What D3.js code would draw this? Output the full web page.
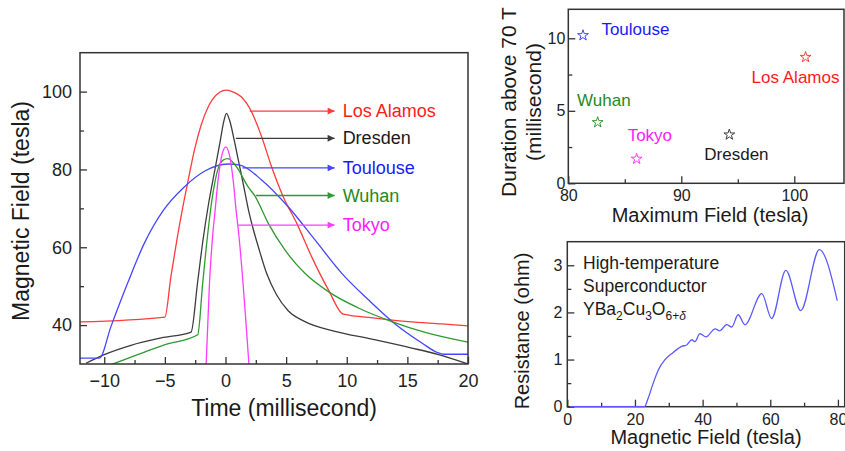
<!DOCTYPE html>
<html>
<head>
<meta charset="utf-8">
<script src="https://cdn.jsdelivr.net/npm/d3@7"></script>
<style>
  body { margin: 0; background: #fff; }
  svg { display: block; font-family: "Liberation Sans", Arial, sans-serif; }
</style>
</head>
<body>
<svg id="chart" width="845" height="451"></svg>
<script>
// field pulses: [time (ms), field (T)]
const losAlamos = [[-12, 40.8], [-5, 42.05], [-4.5, 52.5], [-3.95, 63], [-3.45, 71.5], [-3.0, 78.5],
  [-2.54, 85.3], [-2, 91.5], [-1.44, 96], [-0.7, 99.3], [0.08, 100.4], [0.7, 99.8], [1.32, 98.6],
  [2.15, 94.8], [2.98, 88.4], [3.8, 80.7], [4.76, 73], [5.87, 66.2], [7.1, 57.6], [8.48, 49.1],
  [9.72, 42.8], [12.34, 41.8], [15.09, 40.9], [17.85, 40.3], [20, 39.8]];
const dresden = [[-11.5, 30.2], [-10, 32.4], [-7.8, 34.8], [-5.3, 36.7], [-2.84, 38.2], [-2.3, 51],
  [-1.85, 62], [-1.38, 71.5], [-0.9, 79.5], [-0.45, 87], [-0.15, 92.2], [0.08, 94.4], [0.35, 92.5],
  [0.7, 87.8], [1.05, 82.5], [1.45, 76.5], [1.9, 69.5], [2.3, 64.5], [2.7, 60.2], [3.39, 53.3],
  [4.21, 47.8], [5.17, 43.7], [6.55, 40.9], [9.03, 38.4], [12.07, 36.4], [15.37, 34.1], [17.57, 32.4], [20, 30]];
const toulouse = [[-12, 31.5], [-10.4, 31.5], [-9.45, 39.6], [-8.07, 50.8], [-6.7, 61], [-5.1, 69.6],
  [-3.4, 75.5], [-1.7, 79.6], [0.2, 81.4], [1.2, 81.1], [2.98, 77.3], [5.17, 70.4],
  [7.38, 61.9], [9.59, 53.3], [11.79, 46.5], [13.99, 40.3], [16.2, 35.4], [17.44, 33], [18, 32.5], [20, 32.5]];
const wuhan = [[-9.45, 29.8], [-7.25, 32.4], [-5.04, 34.9], [-2.29, 37.5], [-1.88, 50.8], [-1.46, 63.6],
  [-1.15, 71.5], [-0.9, 76.3], [-0.61, 80.2], [-0.2, 82.4], [0.2, 82.8], [0.9, 80.7], [1.87, 75.5], [2.42, 73.2],
  [3.52, 66.2], [4.9, 59.3], [6.55, 53.3], [8.48, 48.6], [10.96, 44.4], [13.72, 40.9], [16.47, 38.1], [20, 35.6]];
const tokyo = [[-1.6, 29.8], [-1.32, 50.8], [-1.02, 64.4], [-0.88, 68.7], [-0.61, 77.3], [-0.33, 83.2],
  [0.02, 85.8], [0.36, 83.2], [0.63, 77.3], [0.9, 68.7], [1.04, 65], [1.93, 30]];

const sites = ["Los Alamos", "Dresden", "Toulouse", "Wuhan", "Tokyo"];
const pulses = [losAlamos, dresden, toulouse, wuhan, tokyo];
const arrowField = [95, 88, 80.4, 73.3, 65.7];
const arrowFrom = [2.0, 0.85, 1.4, 2.5, 1.07];
const arrowTo = 9.0;

// max field vs time above 70 T
const maxField = [101.0, 94.25, 81.3, 82.6, 86.05];
const duration = [8.7, 3.35, 10.2, 4.2, 1.68];

// YBCO resistance sweep
const resField = [0.8, 10, 20, 22.8, 23.9, 25.4, 26.9, 28.9, 31.3, 33.8, 35.3, 36.8, 37.7, 39.2, 41,
  43.7, 45.1, 47.1, 48.6, 50.5, 52.5, 57.5, 60.4, 64.6, 69, 74.5, 79.8];
const resOhm = [0, 0, 0, 0, 0.18, 0.5, 0.78, 1.0, 1.15, 1.28, 1.31, 1.42, 1.38, 1.55, 1.48,
  1.65, 1.61, 1.74, 1.69, 1.95, 1.74, 2.4, 1.87, 2.89, 2.04, 3.33, 2.25];

const lineColor = ["#ff3b3b", "#3c3c3c", "#4646ff", "#2f9a2f", "#ff3cff"];
const textColor = ["#ff1a1a", "#1a1a1a", "#1a1aff", "#1f8a1f", "#ff1aff"];

const svg = d3.select("#chart");

const frame = (x, y) => {
  svg.append("rect")
    .attr("x", x.range()[0]).attr("y", y.range()[1])
    .attr("width", x.range()[1] - x.range()[0])
    .attr("height", y.range()[0] - y.range()[1])
    .attr("fill", "none").attr("stroke", "#333").attr("stroke-width", 1.5);
};

const axes = (x, y, o) => {
  const bottom = y.range()[0], left = x.range()[0];
  const style = (g) => {
    g.select(".domain").remove();
    g.selectAll("line").attr("stroke", "#333").attr("stroke-width", 1.3);
    g.selectAll("text").attr("fill", "#222").style("font-size", o.font + "px");
  };
  svg.append("g").attr("transform", `translate(0,${bottom})`)
    .call(d3.axisBottom(x).tickValues(o.xMajor).tickSize(-7).tickPadding(o.xPad).tickFormat(d3.format("d")))
    .call(style);
  svg.append("g").attr("transform", `translate(0,${bottom})`)
    .call(d3.axisBottom(x).tickValues(o.xMinor).tickSize(-4).tickFormat("")).call(style);
  svg.append("g").attr("transform", `translate(${left},0)`)
    .call(d3.axisLeft(y).tickValues(o.yMajor).tickSize(-7).tickPadding(o.yPad).tickFormat(d3.format("d")))
    .call(style);
  svg.append("g").attr("transform", `translate(${left},0)`)
    .call(d3.axisLeft(y).tickValues(o.yMinor).tickSize(-4).tickFormat("")).call(style);
};

const title = (txt, x, y, size, rotate) => {
  svg.append("text")
    .attr("transform", `translate(${x},${y})` + (rotate ? " rotate(-90)" : ""))
    .attr("text-anchor", "middle")
    .attr("fill", "#1a1a1a")
    .style("font-size", size + "px")
    .text(txt);
};

// ---------- main panel ----------
const x = d3.scaleLinear().domain([-12, 20]).range([80, 468]);
const y = d3.scaleLinear().domain([30, 110]).range([364, 52.7]);

svg.append("clipPath").attr("id", "clipMain")
  .append("rect").attr("x", 80).attr("y", 52.7).attr("width", 388).attr("height", 311.3);

const defs = svg.append("defs");
lineColor.forEach((c, i) => {
  defs.append("marker").attr("id", "arr" + i)
    .attr("viewBox", "0 0 10 10").attr("refX", 10).attr("refY", 5)
    .attr("markerWidth", 9).attr("markerHeight", 7).attr("markerUnits", "userSpaceOnUse")
    .attr("orient", "auto")
    .append("path").attr("d", "M0,0L10,5L0,10z").attr("fill", c);
});

const line = d3.line().x(d => x(d[0])).y(d => y(d[1])).curve(d3.curveMonotoneX);

svg.append("g").attr("clip-path", "url(#clipMain)")
  .selectAll("path").data(pulses).join("path")
  .attr("d", line)
  .attr("fill", "none")
  .attr("stroke", (d, i) => lineColor[i])
  .attr("stroke-width", 1.3);

svg.append("g").selectAll("line").data(sites).join("line")
  .attr("x1", (d, i) => x(arrowFrom[i])).attr("x2", x(arrowTo))
  .attr("y1", (d, i) => y(arrowField[i])).attr("y2", (d, i) => y(arrowField[i]))
  .attr("stroke", (d, i) => lineColor[i]).attr("stroke-width", 1.3)
  .attr("marker-end", (d, i) => `url(#arr${i})`);

svg.append("g").selectAll("text").data(sites).join("text")
  .attr("x", x(arrowTo) + 8)
  .attr("y", (d, i) => y(arrowField[i]))
  .attr("dy", "0.34em")
  .attr("fill", (d, i) => textColor[i])
  .style("font-size", "18px")
  .text(d => d);

frame(x, y);
axes(x, y, {
  xMajor: [-10, -5, 0, 5, 10, 15, 20], xMinor: [-7.5, -2.5, 2.5, 7.5, 12.5, 17.5],
  yMajor: [40, 60, 80, 100], yMinor: [50, 70, 90], font: 18, xPad: 10, yPad: 8
});
title("Magnetic Field (tesla)", 29, 211, 23, true);
title("Time (millisecond)", 284, 416, 23, false);

// ---------- top right: duration vs max field ----------
const x2 = d3.scaleLinear().domain([80, 104.4]).range([568.3, 844]);
const y2 = d3.scaleLinear().domain([0, 12]).range([183.3, 9.3]);

// label offsets from each star, in px
const labelShift = [[-54, 26], [-25, 25.3], [18.4, -0.7], [-20.6, -16.7], [-9, -18.3]];

svg.append("g").selectAll("path").data(sites).join("path")
  .attr("transform", (d, i) => `translate(${x2(maxField[i])},${y2(duration[i])})`)
  .attr("d", d3.symbol(d3.symbolStar, 36))
  .attr("fill", "#fff")
  .attr("stroke", (d, i) => lineColor[i])
  .attr("stroke-width", 1);

svg.append("g").selectAll("text").data(sites).join("text")
  .attr("x", (d, i) => x2(maxField[i]) + labelShift[i][0])
  .attr("y", (d, i) => y2(duration[i]) + labelShift[i][1])
  .attr("fill", (d, i) => textColor[i])
  .style("font-size", "17px")
  .text(d => d);

frame(x2, y2);
axes(x2, y2, {
  xMajor: [80, 90, 100], xMinor: [85, 95], yMajor: [0, 5, 10], yMinor: [2.5, 7.5],
  font: 16, xPad: 6, yPad: 3
});
title("Duration above 70 T", 516, 102, 21, true);
title("(millisecond)", 541, 102, 21, true);
title("Maximum Field (tesla)", 710, 222, 20, false);

// ---------- bottom right: resistance ----------
const x3 = d3.scaleLinear().domain([0, 82]).range([567.3, 844.7]);
const y3 = d3.scaleLinear().domain([0, 3.5]).range([406.7, 241.7]);

const note = svg.append("g").attr("fill", "#1a1a1a").style("font-size", "17.5px");
note.append("text").attr("x", 583).attr("y", 269).text("High-temperature");
note.append("text").attr("x", 583).attr("y", 292).text("Superconductor");
const formula = note.append("text").attr("x", 583).attr("y", 315);
formula.append("tspan").text("YBa");
formula.append("tspan").attr("dy", 5).style("font-size", "12px").text("2");
formula.append("tspan").attr("dy", -5).text("Cu");
formula.append("tspan").attr("dy", 5).style("font-size", "12px").text("3");
formula.append("tspan").attr("dy", -5).text("O");
formula.append("tspan").attr("dy", 5).style("font-size", "12px").text("6+");
formula.append("tspan").style("font-size", "12px").style("font-style", "italic").text("δ");

frame(x3, y3);
axes(x3, y3, {
  xMajor: [0, 20, 40, 60, 80], xMinor: [10, 30, 50, 70], yMajor: [0, 1, 2, 3], yMinor: [0.5, 1.5, 2.5],
  font: 16, xPad: 7, yPad: 5
});

svg.append("path")
  .datum(resField.map((f, i) => [f, resOhm[i]]))
  .attr("d", d3.line().x(d => x3(d[0])).y(d => y3(d[1])).curve(d3.curveMonotoneX))
  .attr("fill", "none")
  .attr("stroke", "#5a5aff")
  .attr("stroke-width", 1.3);

title("Resistance (ohm)", 529, 331, 20, true);
title("Magnetic Field (tesla)", 706, 444, 20, false);
</script>
</body>
</html>
